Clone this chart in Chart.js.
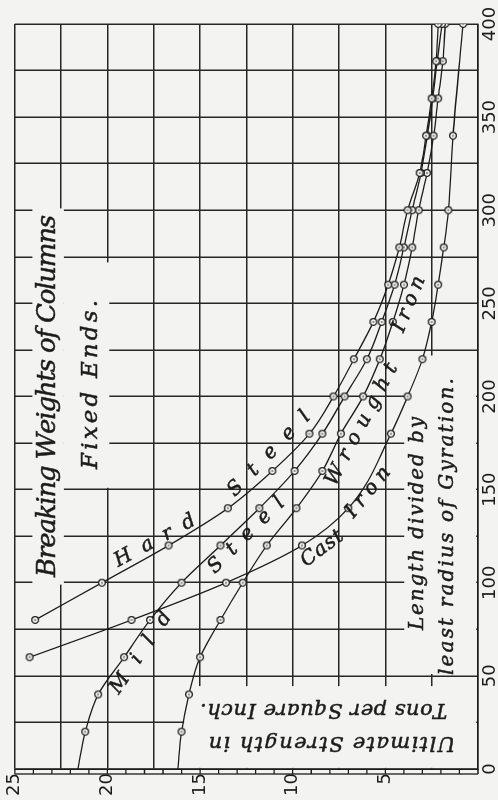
<!DOCTYPE html>
<html>
<head>
<meta charset="utf-8">
<script src="https://cdn.jsdelivr.net/npm/chart.js@4.4.1/dist/chart.umd.min.js"></script>
<style>
    html, body { margin:0; padding:0; background:#f3f3f1; overflow:hidden; }
    /* la grafica se dibuja acostada y se gira 90 grados, como en el libro */
    #hoja { position:absolute; left:0; top:0; width:800px; height:498px;
            transform-origin:0 0; transform:translate(0, 800px) rotate(-90deg); }
</style>
</head>
<body>
<div id="hoja"><canvas id="columnasChart" width="800" height="498"></canvas></div>
<script>
// datos: longitud / radio de giro minimo
var lengthRatio = [0, 20, 40, 60, 80, 100, 120, 140, 160, 180, 200, 220, 240, 260, 280, 300, 320, 340, 360, 380, 400];

// resistencia ultima en toneladas por pulgada cuadrada (null = sin punto)
var hardSteel   = [null, null, null, null, 23.9, 20.3, 16.7, 13.5, 11.1, 9.1, 7.8, 6.7, 5.65, 4.85, 4.25, 3.8, 3.15, 2.8, 2.5, 2.26, 2.15];
var mildSteel   = [21.6, 21.2, 20.5, 19.1, 17.7, 16.0, 13.9, 11.8, 9.9, 8.4, 7.2, 6.0, 5.2, 4.5, 4.0, 3.55, 3.08, 2.74, 2.45, 2.2, 1.94];
var wroughtIron = [16.2, 16.0, 15.6, 15.0, 13.9, 12.7, 11.4, 9.8, 8.4, 7.4, 6.2, 5.3, 4.6, 4.0, 3.55, 3.2, 2.75, 2.4, 2.15, 1.9, 1.77];
var castIron    = [null, null, null, 24.2, 18.7, 13.6, 9.5, 7.0, null, 4.7, 3.8, 3.0, 2.5, 2.15, 1.85, 1.6, null, 1.35, null, null, 0.8];

// etiquetas de los ejes
var lengthTicks = [0, 50, 100, 150, 200, 250, 300, 350, 400];
var tonsTicks   = [5, 10, 15, 20, 25];

var fondo = '#f3f3f1';
var tinta = '#1c1c1c';

// zonas donde el original no tiene cuadricula (L desde, L hasta, t desde, t hasta)
var huecos = [
    [99, 301, 22.35, 24.05],
    [151, 272, 19.9, 22.35],
    [0.6, 44.5, 0.1, 15.86],
    [51, 222, 0.1, 3.98]
];

// textos del grabado: de = inicio, a = final (L, t)
var serif = '"DejaVu Serif", "Liberation Serif", serif';
var textos = [
    {txt: 'Breaking Weights of Columns', de: [103.1, 23.18], a: [296.4, 23.18], font: 'italic 26px ' + serif},
    {txt: 'Fixed Ends.', de: [161.1, 20.87], a: [251.8, 20.87], font: 'italic 23px ' + serif},
    {txt: 'Ultimate Strength in', de: [14.3, 1.23], a: [14.3, 14.54], font: 'italic 21px ' + serif},
    {txt: 'Tons per Square Inch.', de: [32.0, 1.66], a: [32.0, 14.91], font: 'italic 21px ' + serif},
    {txt: 'Length divided by', de: [74.6, 3.27], a: [189, 3.27], font: 'italic 20px ' + serif},
    {txt: 'least radius of Gyration.', de: [50.5, 1.61], a: [209.9, 1.61], font: 'italic 20px ' + serif},
    {txt: 'Hard', de: [110.9, 19.55], a: [133.9, 15.32], font: 'italic 20px ' + serif},
    {txt: 'Steel', de: [147.9, 13.33], a: [190.4, 9.2], font: 'italic 20px ' + serif},
    {txt: 'Mild', de: [41.3, 19.62], a: [83.3, 16.75], font: 'italic 20px ' + serif},
    {txt: 'Steel', de: [106.6, 14.41], a: [144.2, 10.59], font: 'italic 20px ' + serif},
    {txt: 'Wrought', de: [152.8, 7.96], a: [216.6, 4.6], font: 'italic 20px ' + serif},
    {txt: 'Iron', de: [235, 4.29], a: [264.1, 3.12], font: 'italic 20px ' + serif},
    {txt: 'Cast', de: [110.6, 9.44], a: [126, 7.37], font: 'italic 20px ' + serif},
    {txt: 'Iron', de: [136.1, 6.94], a: [160.9, 4.91], font: 'italic 20px ' + serif}
];

// circulito con punto al centro para cada medicion
function marcaPunto() {
    var c = document.createElement('canvas');
    c.width = 10; c.height = 10;
    var g = c.getContext('2d');
    g.fillStyle = fondo;
    g.strokeStyle = tinta;
    g.lineWidth = 1.2;
    g.beginPath(); g.arc(5, 5, 3.4, 0, Math.PI * 2); g.fill(); g.stroke();
    g.fillStyle = tinta;
    g.beginPath(); g.arc(5, 5, 0.8, 0, Math.PI * 2); g.fill();
    return c;
}
var punto = marcaPunto();

function serie(nombre, valores) {
    return {
        label: nombre,
        data: lengthRatio.map(function(l, i) { return {x: l, y: valores[i]}; }),
        borderColor: tinta,
        borderWidth: 1.3,
        fill: false,
        spanGaps: true,
        cubicInterpolationMode: 'monotone',
        pointStyle: punto,
        pointRadius: function(c) { return (c.raw && c.raw.x === 0) ? 0 : 4; }
    };
}

// texto con letras espaciadas para ocupar lo mismo que en el original
function dibujaTexto(ctx, chart, o) {
    var sx = chart.scales.x, sy = chart.scales.y;
    var x1 = sx.getPixelForValue(o.de[0]), y1 = sy.getPixelForValue(o.de[1]);
    var x2 = sx.getPixelForValue(o.a[0]),  y2 = sy.getPixelForValue(o.a[1]);
    var largo = Math.hypot(x2 - x1, y2 - y1);
    ctx.save();
    ctx.font = o.font;
    ctx.fillStyle = tinta;
    ctx.strokeStyle = tinta;
    ctx.lineWidth = 0.5;
    ctx.textBaseline = 'middle';
    ctx.textAlign = 'left';
    var natural = ctx.measureText(o.txt).width;
    var esp = (largo - natural) / Math.max(o.txt.length - 1, 1);
    ctx.translate(x1, y1);
    ctx.rotate(Math.atan2(y2 - y1, x2 - x1));
    var pos = 0;
    for (var i = 0; i < o.txt.length; i++) {
        var letra = o.txt[i];
        ctx.fillText(letra, pos, 0);
        ctx.strokeText(letra, pos, 0);
        pos += ctx.measureText(letra).width + esp;
    }
    ctx.restore();
}

var grabado = {
    id: 'grabado',
    beforeDatasetsDraw: function(chart) {
        var ctx = chart.ctx, sx = chart.scales.x, sy = chart.scales.y;
        ctx.save();
        ctx.fillStyle = fondo;
        huecos.forEach(function(h) {
            var xa = sx.getPixelForValue(h[0]), xb = sx.getPixelForValue(h[1]);
            var ya = sy.getPixelForValue(h[3]), yb = sy.getPixelForValue(h[2]);
            ctx.fillRect(xa, ya, xb - xa, yb - ya);
        });
        // regla doble sobre el eje L = 0
        var a = chart.chartArea;
        ctx.strokeStyle = tinta;
        ctx.lineWidth = 1.3;
        ctx.beginPath();
        ctx.moveTo(a.left - 5, a.top); ctx.lineTo(a.left - 5, a.bottom);
        for (var t = 0; t <= 25; t++) {
            var yy = sy.getPixelForValue(t);
            ctx.moveTo(a.left - 5, yy); ctx.lineTo(a.left, yy);
        }
        ctx.stroke();
        ctx.restore();
    },
    afterDatasetsDraw: function(chart) {
        textos.forEach(function(o) { dibujaTexto(chart.ctx, chart, o); });
    }
};

var ctx = document.getElementById('columnasChart').getContext('2d');
var columnasChart = new Chart(ctx, {
    type: 'line',
    data: {
        datasets: [
            serie('Hard Steel', hardSteel),
            serie('Mild Steel', mildSteel),
            serie('Wrought Iron', wroughtIron),
            serie('Cast Iron', castIron)
        ]
    },
    options: {
        responsive: false,
        animation: false,
        layout: { padding: { left: 0, right: 24, top: 12, bottom: 0 } },
        plugins: { legend: { display: false }, tooltip: { enabled: false } },
        scales: {
            x: {
                type: 'linear', min: 0, max: 400,
                ticks: {
                    stepSize: 25, autoSkip: false, maxRotation: 0, padding: 2,
                    color: tinta, font: { family: 'DejaVu Sans', size: 18 },
                    callback: function(v) { return lengthTicks.indexOf(v) >= 0 ? String(v) : ''; }
                },
                grid: { color: '#262626', lineWidth: 1.5, drawTicks: false },
                border: { color: tinta, width: 1.6 },
                afterFit: function(s) { s.height = 20; }
            },
            y: {
                type: 'linear', min: 0, max: 25,
                ticks: {
                    stepSize: 2.5, autoSkip: false, padding: 4,
                    color: tinta, font: { family: 'DejaVu Sans', size: 18 },
                    callback: function(v) { return tonsTicks.indexOf(v) >= 0 ? String(v) : ''; }
                },
                grid: { color: '#262626', lineWidth: 1.5, drawTicks: false },
                border: { color: tinta, width: 1.6 },
                afterFit: function(s) { s.width = 31; }
            }
        }
    },
    plugins: [grabado]
});
</script>
</body>
</html>
